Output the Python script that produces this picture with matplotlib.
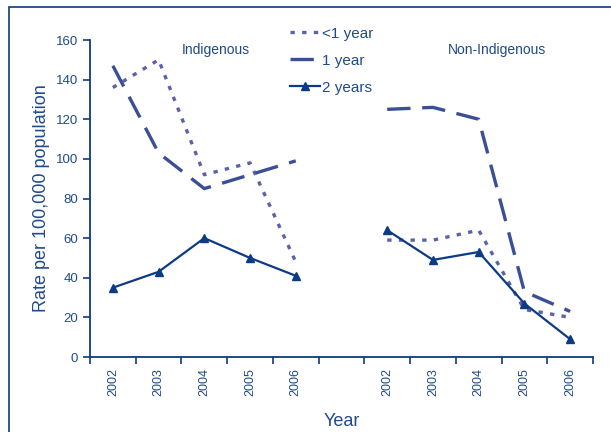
import matplotlib
matplotlib.use('Agg')
import matplotlib.pyplot as plt
from matplotlib.patches import Rectangle

plt.rcParams['font.family'] = ['Liberation Sans', 'DejaVu Sans']

years = ['2002', '2003', '2004', '2005', '2006']

# Indigenous
ind_lt1 = [136, 150, 92, 98, 48]
ind_1yr = [147, 103, 85, 92, 99]
ind_2yr = [35, 43, 60, 50, 41]

# Non-Indigenous
non_lt1 = [59, 59, 64, 24, 20]
non_1yr = [125, 126, 120, 33, 23]
non_2yr = [64, 49, 53, 27, 9]

text_c = '#1f4a8c'
c_lt1 = '#5a62a8'
c_1yr = '#3a4f95'
c_2yr = '#0d3a84'

fig = plt.figure(figsize=(6.11, 4.32), dpi=100)
ax = fig.add_axes([0.1473, 0.1736, 0.8232, 0.7338])

x_ind = list(range(5))
x_non = [i + 6 for i in range(5)]

for xs, lt1, one, two, lab in [(x_ind, ind_lt1, ind_1yr, ind_2yr, True),
                               (x_non, non_lt1, non_1yr, non_2yr, False)]:
    ax.plot(xs, lt1, color=c_lt1, lw=2.4, dashes=(1.3, 2.2),
            label='<1 year' if lab else None)
    ax.plot(xs, one, color=c_1yr, lw=2.4, dashes=(7, 3.5),
            label='1 year' if lab else None)
    ax.plot(xs, two, color=c_2yr, lw=1.6, marker='^', ms=6,
            label='2 years' if lab else None)

ax.set_xlim(-0.5, 10.5)
ax.set_ylim(0, 160)
ax.set_yticks(range(0, 161, 20))
ax.set_xticks([i - 0.5 for i in range(12)])
ax.set_xticklabels([])
ax.set_xticks(x_ind + x_non, minor=True)
ax.set_xticklabels(years + years, minor=True, rotation=90, fontsize=9,
                   color=text_c)
ax.tick_params(axis='x', which='minor', length=0, pad=8)
ax.tick_params(axis='x', which='major', length=5, color=c_2yr, width=1.2)
ax.tick_params(axis='y', length=5, color=c_2yr, width=1.2, labelsize=9.5,
               labelcolor=text_c)

for s in ['top', 'right']:
    ax.spines[s].set_visible(False)
for s in ['left', 'bottom']:
    ax.spines[s].set_color(c_2yr)
    ax.spines[s].set_linewidth(1.3)

ax.set_ylabel('Rate per 100,000 population', fontsize=13, color=text_c,
              labelpad=4)
ax.set_xlabel('Year', fontsize=13, color=text_c, labelpad=12)

ax.text(2.25, 155, 'Indigenous', fontsize=10, color=text_c, ha='center',
        va='center')
ax.text(8.4, 155, 'Non-Indigenous', fontsize=10, color=text_c, ha='center',
        va='center')

leg = ax.legend(loc='upper left', bbox_to_anchor=(0.37, 1.085), frameon=False,
                fontsize=11, handlelength=2.0, handletextpad=0.1,
                labelspacing=0.85)
for t in leg.get_texts():
    t.set_color(text_c)

fig.patches.append(Rectangle((9 / 611, -0.05), 1.05, 1 - 7 / 432 + 0.05,
                             transform=fig.transFigure, fill=False,
                             edgecolor=c_2yr, lw=1.2))

fig.savefig('out.png', dpi=100)
